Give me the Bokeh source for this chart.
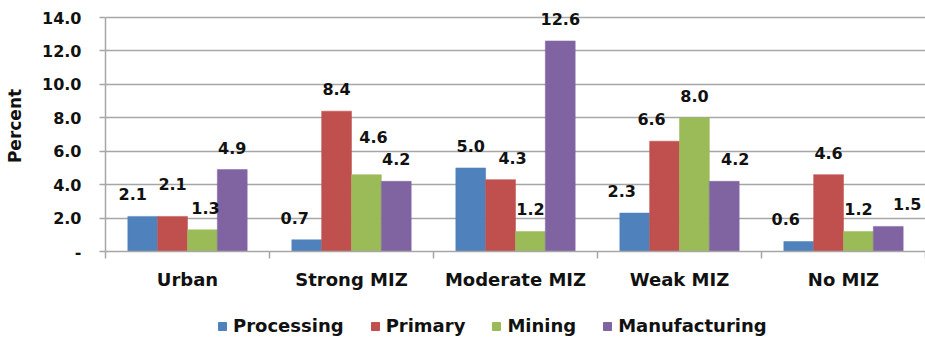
from bokeh.plotting import figure
from bokeh.layouts import column
from bokeh.models import (ColumnDataSource, Range1d, LinearAxis, FixedTicker,
                          LabelSet, Legend, LegendItem, PrintfTickFormatter)
from bokeh.core.properties import value
from bokeh.embed import file_html
from bokeh.resources import INLINE

# Employment change by county type and sector (percent)
categories = ["Urban", "Strong MIZ", "Moderate MIZ", "Weak MIZ", "No MIZ"]
series = ["Processing", "Primary", "Mining", "Manufacturing"]
processing = [2.1, 0.7, 5.0, 2.3, 0.6]
primary = [2.1, 8.4, 4.3, 6.6, 4.6]
mining = [1.3, 4.6, 1.2, 8.0, 1.2]
manufacturing = [4.9, 4.2, 12.6, 4.2, 1.5]
y_ticks = [0, 2, 4, 6, 8, 10, 12, 14]

values = [processing, primary, mining, manufacturing]
colors = ["#4F81BD", "#C0504D", "#9BBB59", "#8064A2"]

FONT = "DejaVu Sans"
GRID = "#a6a6a6"
INK = "#111111"

# hand-placed label nudges (screen px) where labels would crowd
label_nudge = {
    (0, 0): (-10, 0), (0, 1): (0, 10), (0, 2): (3, 0),
    (1, 0): (-12, 0), (1, 2): (7, 16),
    (2, 1): (12, 0),
    (3, 0): (-13, 0), (3, 1): (-13, 0), (3, 3): (11, 0),
    (4, 0): (-13, 0), (4, 3): (19, 0),
}

# y range reaches a little above 14 so the tallest value label has room
p = figure(width=925, height=300, output_backend="svg", toolbar_location=None,
           x_range=Range1d(0, len(categories)), y_range=Range1d(0, 15.02),
           x_axis_type=None, min_border_left=105, min_border_right=0,
           min_border_top=0, min_border_bottom=49)
p.outline_line_color = None
p.background_fill_color = "white"

bar_w = 0.182
offsets = [-1.5 * bar_w, -0.5 * bar_w, 0.5 * bar_w, 1.5 * bar_w]

lx, ly, lt, lxo, lyo = [], [], [], [], []
for s, (name, vals, col, off) in enumerate(zip(series, values, colors, offsets)):
    xs = [i + 0.5 + off for i in range(len(categories))]
    src = ColumnDataSource(dict(x=xs, top=vals))
    p.vbar(x="x", top="top", width=bar_w, source=src,
           fill_color=col, line_color=col, line_alpha=0.5)
    for i, v in enumerate(vals):
        dx, dy = label_nudge.get((i, s), (0, 0))
        lx.append(xs[i]); ly.append(v); lt.append(f"{v:.1f}")
        lxo.append(dx); lyo.append(22 + dy)

labels = LabelSet(source=ColumnDataSource(dict(x=lx, y=ly, t=lt, xo=lxo, yo=lyo)),
                  x="x", y="y", text="t", x_offset="xo", y_offset="yo",
                  text_align="center", text_baseline="middle",
                  text_font=value(FONT), text_font_style="bold",
                  text_font_size="16px", text_color=INK)
p.add_layout(labels)

# y axis
yax = p.yaxis[0]
yax.ticker = FixedTicker(ticks=y_ticks)
yax.bounds = (0, 14)
yax.formatter = PrintfTickFormatter(format="%.1f")
yax.major_label_overrides = {0: "-"}
yax.axis_label = "Percent"
yax.axis_label_text_font = FONT
yax.axis_label_text_font_style = "bold"
yax.axis_label_text_font_size = "17px"
yax.axis_label_text_color = INK
yax.axis_label_standoff = 14
yax.major_label_text_font = FONT
yax.major_label_text_font_style = "bold"
yax.major_label_text_font_size = "16px"
yax.major_label_text_color = INK
yax.major_label_standoff = 18
yax.major_tick_out = 6
yax.major_tick_in = 0
yax.minor_tick_line_color = None
yax.axis_line_color = GRID
yax.major_tick_line_color = GRID
yax.axis_line_width = 1.5
yax.major_tick_line_width = 1.5

# x axis: names centred on each group, tick marks between groups
xax = LinearAxis(ticker=FixedTicker(ticks=[i + 0.5 for i in range(len(categories))],
                                    minor_ticks=list(range(len(categories) + 1))))
xax.major_label_overrides = {i + 0.5: c for i, c in enumerate(categories)}
xax.major_label_text_font = FONT
xax.major_label_text_font_style = "bold"
xax.major_label_text_font_size = "18px"
xax.major_label_text_color = INK
xax.major_label_standoff = 10
xax.major_tick_line_color = None
xax.major_tick_out = 0
xax.major_tick_in = 0
xax.minor_tick_out = 7
xax.minor_tick_in = 0
xax.minor_tick_line_color = GRID
xax.minor_tick_line_width = 1.5
xax.axis_line_color = GRID
xax.axis_line_width = 1.5
p.add_layout(xax, "below")

p.xgrid.visible = False
p.ygrid.ticker = FixedTicker(ticks=y_ticks)
p.ygrid.grid_line_color = GRID
p.ygrid.grid_line_width = 1.5

# legend strip underneath the chart; its swatch bars sit below the visible range
lg = figure(width=925, height=38, output_backend="svg", toolbar_location=None,
            x_range=Range1d(0, 1), y_range=Range1d(0, 1),
            x_axis_type=None, y_axis_type=None,
            min_border_left=0, min_border_right=0, min_border_top=0, min_border_bottom=0)
lg.outline_line_color = None
lg.grid.visible = False
swatches = []
for name, col in zip(series, colors):
    swatches.append(lg.vbar(x=[0.5], bottom=[-3], top=[-2], width=0.1,
                            fill_color=col, line_color=col))
legend = Legend(items=[LegendItem(label=n, renderers=[r]) for n, r in zip(series, swatches)],
                orientation="horizontal", location=(112, 2),
                label_text_font=FONT, label_text_font_style="bold",
                label_text_font_size="18px", label_text_color=INK,
                glyph_width=10, glyph_height=10, label_standoff=6, spacing=26,
                padding=0, margin=0, border_line_color=None,
                background_fill_alpha=0)
lg.add_layout(legend)

layout = column(p, lg, spacing=0)
open("out.html", "w").write(file_html(layout, INLINE))
